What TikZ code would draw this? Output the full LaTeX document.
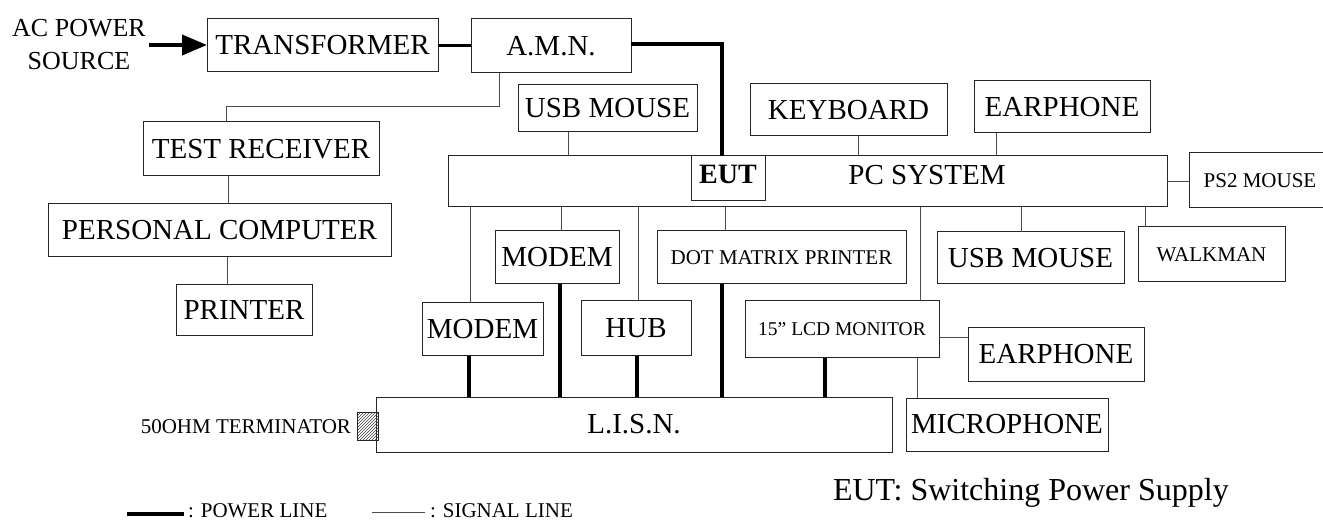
\documentclass[tikz,border=0pt]{standalone}
\usepackage{fontspec}
\setmainfont{Liberation Serif}
\usetikzlibrary{arrows.meta,patterns}
\newcommand{\mkbox}[7][]{\node[box,#1,minimum width={#5-#3},minimum height={#6-#4}] (#2) at ({(#3+#5)/2},{(#4+#6)/2}) {#7};}
\begin{document}
\begin{tikzpicture}[x=1pt,y=-1pt,
  box/.style={draw=black!85,line width=1pt,inner sep=0pt,outer sep=0pt,font=\fontsize{29}{30}\selectfont},
  sig/.style={draw=black!70,line width=1pt},
  pwr/.style={draw=black,line width=3.2pt},
  small/.style={font=\fontsize{21}{22}\selectfont},
  lcdf/.style={font=\fontsize{19.5}{20}\selectfont},
  txt/.style={inner sep=0pt,outer sep=0pt}]
\useasboundingbox (0,0) rectangle (1323,521);
% boxes
\mkbox{trans}{207}{19}{438}{72}{TRANSFORMER}
\mkbox{amn}{471}{19}{631}{73}{A.M.N.}
\mkbox{usbt}{518}{85}{697}{132}{USB MOUSE}
\mkbox{kbd}{750}{84}{947}{136}{KEYBOARD}
\mkbox{eart}{974}{81}{1150}{133}{EARPHONE}
\mkbox{rcv}{143}{122}{379}{176}{TEST RECEIVER}
\mkbox{pc}{448}{156}{1167}{207}{}
\mkbox{eut}{691}{156}{765}{201}{}
\mkbox[small]{ps2}{1189}{153}{1331}{208}{PS2 MOUSE}
\mkbox{perc}{48}{204}{391}{257}{PERSONAL COMPUTER}
\mkbox{prn}{176}{285}{312}{336}{PRINTER}
\mkbox{modA}{495}{231}{619}{284}{MODEM}
\mkbox[small]{dot}{657}{231}{906}{284}{DOT MATRIX PRINTER}
\mkbox{usbb}{937}{232}{1124}{284}{USB MOUSE}
\mkbox[small]{walk}{1138}{227}{1285}{282}{WALKMAN}
\mkbox{modB}{422}{303}{543}{356}{MODEM}
\mkbox{hub}{581}{301}{691}{356}{HUB}
\mkbox[lcdf]{lcd}{745}{301}{939}{358}{15” LCD MONITOR}
\mkbox{earb}{968}{328}{1144}{381}{EARPHONE}
\mkbox{lisn}{376}{397}{892}{452}{L.I.S.N.}
\mkbox{mic}{906}{398}{1108}{451}{MICROPHONE}
\node[draw=black!85,line width=1pt,pattern=north east lines,pattern color=black!75,minimum width=21,minimum height=28,inner sep=0pt] (term) at (367.5,426) {};
% texts
\node[txt,font=\fontsize{29}{30}\selectfont,anchor=base] (pct) at (927,185) {PC SYSTEM};
\node[txt,font=\fontsize{28}{30}\selectfont\bfseries,anchor=base] (eutt) at (728,184) {EUT};
\node[txt,small,anchor=east] (termt) at (351,427) {50OHM TERMINATOR};
\node[align=center,font=\fontsize{26}{33}\selectfont] (ac) at (79,45) {AC POWER\\SOURCE};
\node[txt,font=\fontsize{32}{34}\selectfont,anchor=base west] (note) at (833,500) {EUT: Switching Power Supply};
% arrow in
\draw[line width=4pt,-{Triangle[length=25pt,width=20pt]}] (ac.east) -- (ac.east -| trans.west);
% power lines
\coordinate (bend) at (722,44);
\draw[pwr] (trans.east) -- (amn.west |- trans.east);
\draw[pwr] (amn.east |- bend) -- (bend) -- (bend |- eut.north);
\draw[pwr] (modB.south -| 469,0) -- (lisn.north -| 469,0);
\draw[pwr] (modA.south -| 560,0) -- (lisn.north -| 560,0);
\draw[pwr] (hub.south -| 637,0) -- (lisn.north -| 637,0);
\draw[pwr] (dot.south -| 722,0) -- (lisn.north -| 722,0);
\draw[pwr] (lcd.south -| 825,0) -- (lisn.north -| 825,0);
% signal lines
\coordinate (s1) at (499,107);
\coordinate (s2) at (226,107);
\draw[sig] (amn.south -| s1) -- (s1) -- (s2) -- (rcv.north -| s2);
\draw[sig] (rcv.south -| 228,0) -- (perc.north -| 228,0);
\draw[sig] (perc.south -| 227,0) -- (prn.north -| 227,0);
\draw[sig] (usbt.south -| 568,0) -- (pc.north -| 568,0);
\draw[sig] (kbd.south -| 858,0) -- (pc.north -| 858,0);
\draw[sig] (eart.south -| 996,0) -- (pc.north -| 996,0);
\draw[sig] (pc.east |- 0,182) -- (ps2.west |- 0,182);
\draw[sig] (pc.south -| 470,0) -- (modB.north -| 470,0);
\draw[sig] (pc.south -| 561,0) -- (modA.north -| 561,0);
\draw[sig] (pc.south -| 638,0) -- (hub.north -| 638,0);
\draw[sig] (pc.south -| 725,0) -- (dot.north -| 725,0);
\draw[sig] (pc.south -| 920,0) -- (lcd.north -| 920,0);
\draw[sig] (pc.south -| 1021,0) -- (usbb.north -| 1021,0);
\draw[sig] (pc.south -| 1145,0) -- (walk.north -| 1145,0);
\draw[sig] (lcd.east |- 0,338) -- (earb.west |- 0,338);
\draw[sig] (lcd.south -| 917,0) -- (mic.north -| 917,0);
% legend
\coordinate (la) at (127,514);
\coordinate (lb) at (184,514);
\coordinate (lc) at (372,512);
\coordinate (ld) at (425,512);
\draw[pwr] (la) -- (lb);
\draw[sig] (lc) -- (ld);
\node[txt,small,anchor=base west] (lt1) at (188,517) {: POWER LINE};
\node[txt,small,anchor=base west] (lt2) at (430,517) {: SIGNAL LINE};
\end{tikzpicture}
\end{document}
